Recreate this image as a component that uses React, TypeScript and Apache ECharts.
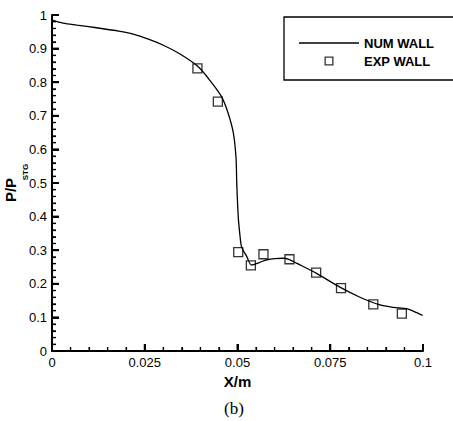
import React, { useEffect, useRef } from "react";
import * as echarts from "echarts";

// Numerical wall pressure ratio along the wall
const numX = [
  0, 0.003, 0.0067, 0.012, 0.018, 0.0219, 0.026, 0.03, 0.0345, 0.0392, 0.0426,
  0.0457, 0.0475, 0.0489, 0.0496, 0.0498, 0.0502, 0.0507, 0.0511, 0.0525,
  0.0538, 0.056, 0.0579, 0.06, 0.0623, 0.064, 0.066, 0.0713, 0.0776, 0.083,
  0.0884, 0.092, 0.0956, 0.0975, 0.0999,
];
const numY = [
  0.985, 0.976, 0.97, 0.962, 0.952, 0.943, 0.928, 0.91, 0.884, 0.848, 0.805,
  0.757, 0.707, 0.648, 0.575, 0.5, 0.4, 0.34, 0.31, 0.281, 0.256, 0.264,
  0.271, 0.275, 0.276, 0.272, 0.261, 0.231, 0.19, 0.16, 0.137, 0.13, 0.126,
  0.118, 0.106,
];

// Experimental wall measurements
const expX = [0.0392, 0.0447, 0.0502, 0.0536, 0.057, 0.064, 0.0712, 0.0779, 0.0866, 0.0943];
const expY = [0.841, 0.742, 0.294, 0.255, 0.288, 0.273, 0.233, 0.187, 0.139, 0.111];

// Tick positions (major and minor) along each axis
const xMajorTicks = [0, 0.025, 0.05, 0.075, 0.1];
const yMajorTicks = [0, 0.1, 0.2, 0.3, 0.4, 0.5, 0.6, 0.7, 0.8, 0.9, 1];
const xMinorStep = 0.005;
const yMinorStep = 0.02;

const seriesNames = ["NUM WALL", "EXP WALL"];
const xTitle = "X/m";
const yTitleMain = "P/P";
const yTitleSub = "STG";
const caption = "(b)";

const sans = "'Liberation Sans', Arial, sans-serif";

// legend glyphs: a plain horizontal stroke and a hollow square
const lineIcon = "path://M0,0H60V1.3H0Z";
const squareIcon = "path://M0,0H9V9H0Z M1.3,1.3V7.7H7.7V1.3Z";

export default function App() {
  const ref = useRef<HTMLDivElement>(null);

  useEffect(() => {
    if (!ref.current) return;
    const chart = echarts.init(ref.current, null, { renderer: "svg" });

    const axisStyle = {
      axisLine: { show: true, lineStyle: { color: "#000", width: 2 } },
      axisTick: { show: true, inside: true, length: 7, lineStyle: { color: "#000", width: 2 } },
      minorTick: { show: true, splitNumber: 5, length: 4, lineStyle: { color: "#000", width: 1.2 } },
      splitLine: { show: false },
      axisLabel: { color: "#000", fontFamily: sans, fontSize: 13, margin: 5 },
    };

    // inward tick marks along the bottom and left axes, placed through the axis scales
    const renderTicks = (params: any, api: any) => {
      const children: any[] = [];
      const tick = (x1: number, y1: number, x2: number, y2: number, w: number) =>
        children.push({ type: "line", shape: { x1, y1, x2, y2 }, style: { stroke: "#000", lineWidth: w } });
      const xMax = xMajorTicks[xMajorTicks.length - 1];
      const yMax = yMajorTicks[yMajorTicks.length - 1];
      for (let i = 0; i * xMinorStep <= xMax + 1e-9; i++) {
        const v = +(i * xMinorStep).toFixed(4);
        const p = api.coord([v, 0]);
        const major = xMajorTicks.some((m) => Math.abs(m - v) < 1e-9);
        tick(p[0], p[1], p[0], p[1] - (major ? 7 : 4), major ? 2 : 1.2);
      }
      for (let i = 0; i * yMinorStep <= yMax + 1e-9; i++) {
        const v = +(i * yMinorStep).toFixed(4);
        const p = api.coord([0, v]);
        const major = yMajorTicks.some((m) => Math.abs(m - v) < 1e-9);
        tick(p[0], p[1], p[0] + (major ? 7 : 4), p[1], major ? 2 : 1.2);
      }
      return { type: "group", children };
    };

    chart.setOption({
      animation: false,
      title: {
        text: caption,
        left: 234,
        top: 400,
        textAlign: "center",
        padding: 0,
        textStyle: {
          fontFamily: "'Liberation Serif', 'Times New Roman', serif",
          fontSize: 17,
          fontWeight: "normal",
          color: "#000",
        },
      },
      legend: {
        orient: "vertical",
        left: 284,
        top: 17,
        padding: [19, 30, 12, 15],
        backgroundColor: "#fff",
        borderColor: "#000",
        borderWidth: 1.3,
        borderRadius: 0,
        itemWidth: 60,
        itemHeight: 9,
        itemGap: 4,
        textStyle: { fontFamily: sans, fontSize: 13, fontWeight: "bold", color: "#000", lineHeight: 14 },
        data: [
          { name: seriesNames[0], icon: lineIcon, itemStyle: { color: "#000", borderWidth: 0 } },
          { name: seriesNames[1], icon: squareIcon, itemStyle: { color: "#000", borderWidth: 0 } },
        ],
      },
      grid: { left: 52, right: 30, top: 15, bottom: 70, outerBoundsMode: "none" },
      xAxis: {
        type: "value",
        min: 0,
        max: 0.1,
        interval: 0.025,
        ...axisStyle,
        name: xTitle,
        nameLocation: "middle",
        nameGap: 15,
        nameTextStyle: { color: "#000", fontFamily: sans, fontSize: 15, fontWeight: "bold" },
      },
      yAxis: [
        {
          type: "value",
          min: 0,
          max: 1,
          interval: 0.1,
          ...axisStyle,
          name: yTitleMain,
          nameLocation: "middle",
          nameRotate: 90,
          nameGap: 22,
          nameTextStyle: {
            color: "#000",
            fontFamily: sans,
            fontSize: 15,
            fontWeight: "bold",
            padding: [0, 14, 0, 0],
          },
        },
        {
          // carries only the subscript of the y title
          type: "value",
          min: 0,
          max: 1,
          position: "left",
          axisLine: { show: false },
          axisTick: { show: false },
          axisLabel: { show: false },
          splitLine: { show: false },
          name: yTitleSub,
          nameLocation: "middle",
          nameRotate: 90,
          nameGap: 23,
          nameTextStyle: {
            color: "#000",
            fontFamily: sans,
            fontSize: 8,
            fontWeight: "bold",
            padding: [0, 0, 0, 22],
          },
        },
      ],
      series: [
        {
          name: "ticks",
          type: "custom",
          silent: true,
          data: [[0, 0]],
          renderItem: renderTicks,
          z: 1,
        },
        {
          name: seriesNames[0],
          type: "line",
          data: numX.map((x, i) => [x, numY[i]]),
          symbol: "none",
          smooth: 0.3,
          lineStyle: { color: "#000", width: 1.3 },
          itemStyle: { color: "#000" },
          z: 2,
        },
        {
          name: seriesNames[1],
          type: "scatter",
          data: expX.map((x, i) => [x, expY[i]]),
          symbol: "rect",
          symbolSize: 9,
          itemStyle: { color: "none", borderColor: "#000", borderWidth: 1.3 },
          z: 3,
        },
      ],
    });

    return () => chart.dispose();
  }, []);

  return <div ref={ref} style={{ width: 453, height: 421, position: "absolute", left: 0, top: 0 }} />;
}
